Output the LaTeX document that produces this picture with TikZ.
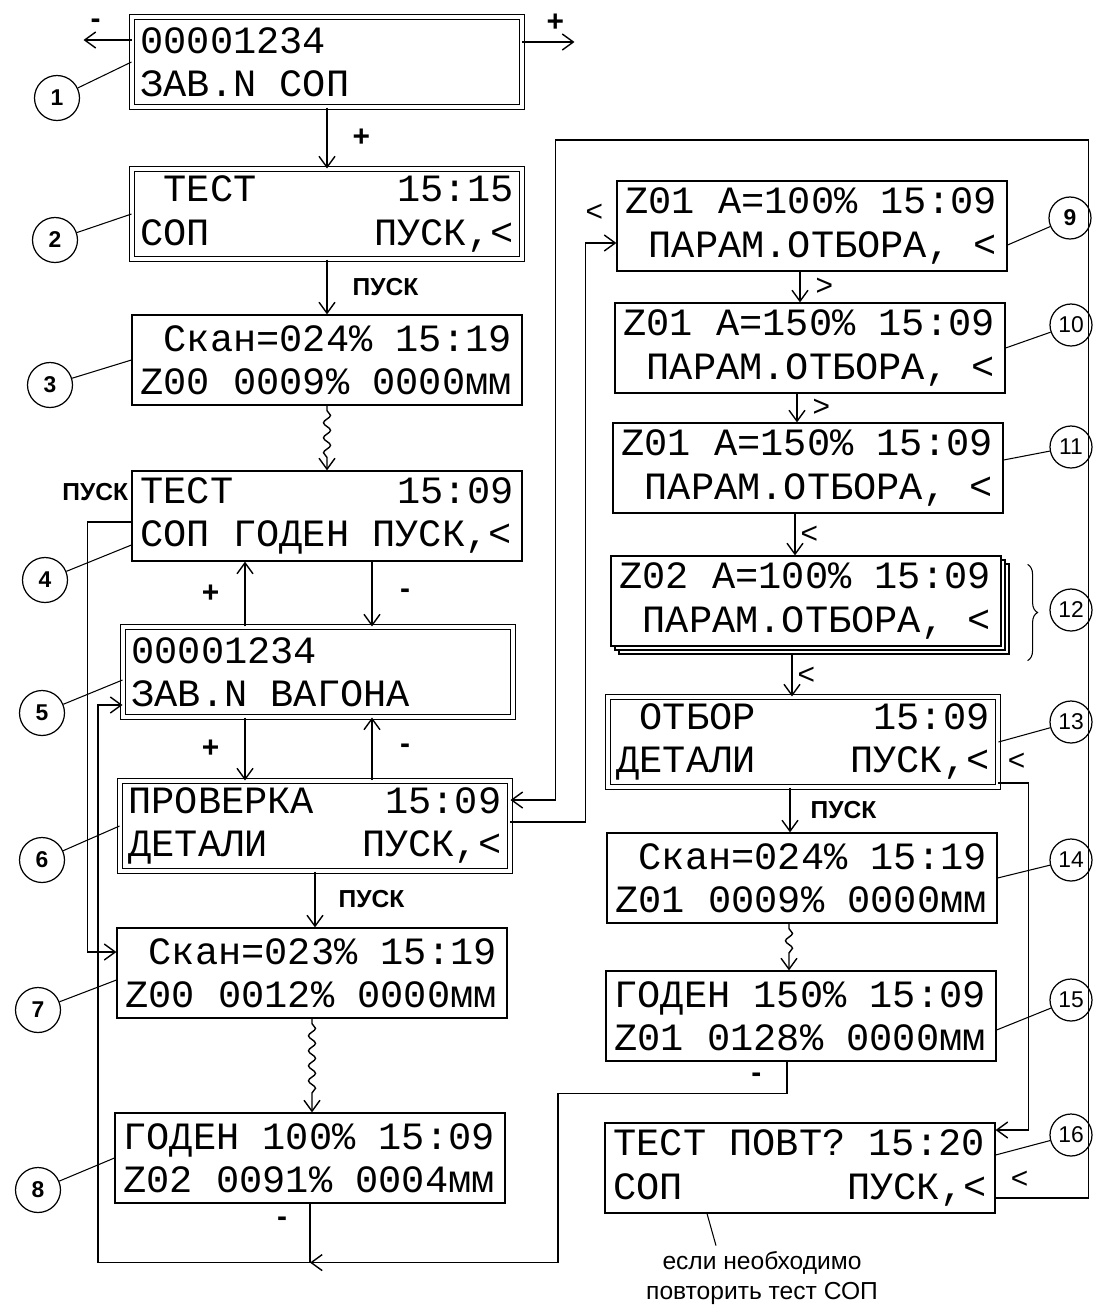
\documentclass[tikz,border=0pt]{standalone}
\usepackage{fontspec}
\setmainfont{Liberation Sans}
\newfontfamily\lcdfont{Liberation Mono}
\usepackage{tikz}
\usetikzlibrary{arrows.meta, positioning, calc, decorations.pathmorphing, decorations.pathreplacing}
% one display cell
\newcommand{\sk}{\phantom{0}}

\begin{document}
\begin{tikzpicture}[
  x=0.02cm, y=-0.02cm,
  lcd/.style={draw, fill=white, line width=0.7pt, minimum width=7.8cm, minimum height=1.8cm, text width=7.46cm, align=left, inner sep=0pt, font=\lcdfont\fontsize{22}{24.5}\selectfont},
  lcdd/.style={lcd, double, double distance=2pt, line width=0.6pt},
  arr/.style={-{Straight Barb[length=2.2mm, width=3.2mm]}, line width=0.8pt},
  wavy/.style={decorate, decoration={snake, amplitude=0.7mm, segment length=3mm, pre length=1mm, post length=2.5mm}},
  lead/.style={line width=0.6pt},
  num/.style={draw, circle, minimum size=0.9cm, inner sep=0pt, line width=0.7pt, font=\bfseries\fontsize{13}{13}\selectfont},
  numr/.style={num, minimum size=0.84cm, font=\fontsize{13}{13}\selectfont},
  lbl/.style={inner sep=0pt, font=\bfseries\fontsize{14}{14}\selectfont},
  pm/.style={inner sep=0pt, font=\bfseries\fontsize{17}{17}\selectfont},
  sym/.style={inner sep=0pt, font=\fontsize{17}{17}\selectfont},
  note/.style={align=center, inner sep=0pt, font=\fontsize{14}{17.6}\selectfont}
]
\useasboundingbox (0,0) rectangle (1094,1306);

% Left column
\node[lcdd] (b1) at (327,62) {00001234\\ЗАВ.N\sk СОП};
\node[lcdd] (b2) at (327,214) {\sk ТЕСТ\hfill 15:15\\СОП\hfill ПУСК,<};
\node[lcd] (b3) at (327,360) {\sk Скан=024\%\sk 15:19\\Z00\sk 0009\%\sk 0000мм};
\node[lcd] (b4) at (327,516) {ТЕСТ\hfill 15:09\\СОП\sk ГОДЕН\sk ПУСК,<};
\node[lcdd] (b5) at (318,672) {00001234\\ЗАВ.N\sk ВАГОНА};
\node[lcdd] (b6) at (315,826) {ПРОВЕРКА\hfill 15:09\\ДЕТАЛИ\hfill ПУСК,<};
\node[lcd] (b7) at (312,973) {\sk Скан=023\%\sk 15:19\\Z00\sk 0012\%\sk 0000мм};
\node[lcd] (b8) at (310,1158) {ГОДЕН\sk 100\%\sk 15:09\\Z02\sk 0091\%\sk 0004мм};

% Right column
\node[lcd] (b9) at (812,226) {Z01\sk A=100\%\sk 15:09\\\sk ПАРАМ.ОТБОРА,\sk <};
\node[lcd] (b10) at (810,348) {Z01\sk A=150\%\sk 15:09\\\sk ПАРАМ.ОТБОРА,\sk <};
\node[lcd] (b11) at (808,468) {Z01\sk A=150\%\sk 15:09\\\sk ПАРАМ.ОТБОРА,\sk <};
\node[lcd] (b12s2) at (814,609) {};
\node[lcd] (b12s1) at (810,605) {};
\node[lcd] (b12) at (806,601) {Z02\sk A=100\%\sk 15:09\\\sk ПАРАМ.ОТБОРА,\sk <};
\node[lcdd] (b13) at (803,742) {\sk ОТБОР\hfill 15:09\\ДЕТАЛИ\hfill ПУСК,<};
\node[lcd] (b14) at (802,878) {\sk Скан=024\%\sk 15:19\\Z01\sk 0009\%\sk 0000мм};
\node[lcd] (b15) at (801,1016) {ГОДЕН\sk 150\%\sk 15:09\\Z01\sk 0128\%\sk 0000мм};
\node[lcd] (b16) at (800,1168) {ТЕСТ\sk ПОВТ?\sk 15:20\\СОП\hfill ПУСК,<};

% Note
\node[note] (nt) at (762,1278) {если необходимо\\повторить тест СОП};
\draw[lead] ([xshift=-1.86cm]b16.south) -- ([xshift=-0.92cm, yshift=0.1cm]nt.north);

% Left column arrows
\draw[arr] ([yshift=0.44cm]b1.west) -- ++(-48,0) node[pm, pos=0.75, above=0.22cm] (m1) {-};
\draw[arr] ([yshift=0.4cm]b1.east) -- ++(52,0) node[pm, pos=0.63, above=0.2cm] (p1) {+};
\draw[arr] (b1.south) -- (b1.south |- b2.north) node[pm, midway, right=0.5cm] (p2) {+};
\draw[arr] (b2.south) -- (b2.south |- b3.north) node[lbl, midway, right=0.5cm] (s2) {ПУСК};
\draw[arr, wavy] (b3.south) -- (b3.south |- b4.north);
\node[lbl, left=0.06cm] (s4) at ([yshift=0.48cm]b4.west) {ПУСК};
\draw[arr] ([xshift=-1.46cm]b5.north) -- ([xshift=-1.46cm]b5.north |- b4.south) node[pm, midway, left=0.5cm] (p4) {+};
\draw[arr] ([xshift=1.08cm]b5.north |- b4.south) -- ([xshift=1.08cm]b5.north) node[pm, midway, right=0.55cm] (m4) {-};
\draw[arr] ([xshift=-1.46cm]b5.south) -- ([xshift=-1.46cm]b5.south |- b6.north) node[pm, midway, left=0.5cm] (p5) {+};
\draw[arr] ([xshift=1.08cm]b5.south |- b6.north) -- ([xshift=1.08cm]b5.south) node[pm, midway, right=0.55cm] (m5) {-};
\draw[arr] (b6.south) -- (b6.south |- b7.north) node[lbl, midway, right=0.46cm] (s6) {ПУСК};
\draw[arr, wavy] (b7.south) -- (b7.south |- b8.north);

% Loops on the left
\draw[arr] ([yshift=-0.12cm]b4.west) -- ++(-44,0) |- ([yshift=0.42cm]b7.west);
\coordinate (jn) at ([yshift=-1.18cm]b8.south);
\draw[arr] (b8.south) -- (jn) -- ++(-212,0) |- ([yshift=-0.66cm]b5.west);
\node[pm, left=0.45cm] (m8) at ([yshift=-0.36cm]b8.south) {-};
\draw[arr] ([xshift=-0.28cm]b15.south) -- ++(0,32) node[pm, midway, left=0.5cm] (m15) {-} -- ++(-229,0) |- (jn);

% Right column arrows
\draw[arr] ([xshift=-0.24cm]b9.south) -- ([xshift=-0.24cm]b9.south |- b10.north) node[sym, midway, right=0.3cm] (g9) {>};
\draw[arr] ([xshift=-0.26cm]b10.south) -- ([xshift=-0.26cm]b10.south |- b11.north) node[sym, midway, right=0.3cm] (g10) {>};
\draw[arr] ([xshift=-0.26cm]b11.south) -- ([xshift=-0.26cm]b11.south |- b12.north) node[sym, midway, right=0.1cm] (l11) {<};
\draw[arr] ([xshift=-0.28cm, yshift=-0.16cm]b12.south) -- ([xshift=-0.28cm]b12.south |- b13.north) node[sym, midway, right=0.1cm] (l12) {<};
\draw[arr] ([xshift=-0.26cm]b13.south) -- ([xshift=-0.26cm]b13.south |- b14.north) node[lbl, midway, right=0.4cm] (s13) {ПУСК};
\draw[arr, wavy] ([xshift=-0.26cm]b14.south) -- ([xshift=-0.26cm]b14.south |- b15.north);
\node[sym, left=0.26cm] (l9) at ([yshift=0.26cm]b9.west) {<};
\node[sym, right=0.18cm] (l13) at ([yshift=-0.4cm]b13.east) {<};
\node[sym, right=0.3cm] (l16) at ([yshift=-0.24cm]b16.east) {<};

% Loops on the right
\draw[arr] ([yshift=0.08cm]b6.east) -- ++(75,0) |- ([yshift=-0.34cm]b9.west);
\draw[arr] ([yshift=-0.6cm]b16.east) -- ++(93,0) -- ++(0,-1058) -- ++(-533,0) |- ([yshift=0.52cm]b6.east);
\draw[arr] ([yshift=-0.82cm]b13.east) -- ++(30,0) |- ([yshift=0.76cm]b16.east);

% Numbers
\node[num] (n1) at (57,98) {1};
\node[num] (n2) at (55,240) {2};
\node[num] (n3) at (50,385) {3};
\node[num] (n4) at (45,580) {4};
\node[num] (n5) at (42,713) {5};
\node[num] (n6) at (42,860) {6};
\node[num] (n7) at (38,1010) {7};
\node[num] (n8) at (38,1190) {8};
\node[num, minimum size=0.84cm] (n9) at (1070,218) {9};
\node[numr] (n10) at (1071,325) {10};
\node[numr] (n11) at (1071,447) {11};
\node[numr] (n12) at (1071,610) {12};
\node[numr] (n13) at (1071,722) {13};
\node[numr] (n14) at (1071,860) {14};
\node[numr] (n15) at (1071,1000) {15};
\node[numr] (n16) at (1071,1135) {16};
\draw[lead] (n1) -- (b1.west);
\draw[lead] (n2) -- (b2.west);
\draw[lead] (n3) -- (b3.west);
\draw[lead] (n4) -- ([yshift=-0.58cm]b4.west);
\draw[lead] (n5) -- ([yshift=-0.16cm]b5.west);
\draw[lead] (n6) -- (b6.west);
\draw[lead] (n7) -- ([yshift=-0.14cm]b7.west);
\draw[lead] (n8) -- (b8.west);
\draw[lead] (n9) -- ([yshift=-0.38cm]b9.east);
\draw[lead] (n10) -- (b10.east);
\draw[lead] (n11) -- ([yshift=0.16cm]b11.east);
\draw[lead, decorate, decoration={brace, amplitude=2mm}] ([xshift=0.52cm, yshift=-0.18cm]b12.north east) -- ([xshift=0.52cm, yshift=-0.28cm]b12.south east);
\draw[lead] (n13) -- (b13.east);
\draw[lead] (n14) -- (b14.east);
\draw[lead] (n15) -- ([yshift=-0.28cm]b15.east);
\draw[lead] (n16) -- ([yshift=0.26cm]b16.east);
\end{tikzpicture}
\end{document}
